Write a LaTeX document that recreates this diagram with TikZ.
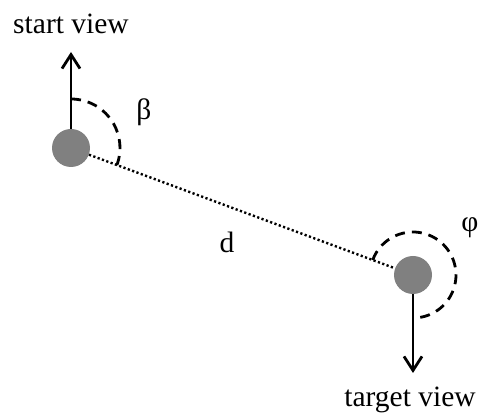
\documentclass[tikz,border=0pt]{standalone}
\usepackage{fontspec}
\setmainfont{Liberation Serif}
\usetikzlibrary{arrows.meta,calc}
\begin{document}
\begin{tikzpicture}[x=1pt,y=1pt,
  view/.style={circle,fill={rgb,255:red,128;green,128;blue,128},minimum size=38pt,inner sep=0pt},
  viewarrow/.style={line width=2.8pt,-{Straight Barb[length=14pt,width=18pt,line width=2.8pt]}},
  anglearc/.style={line width=2.8pt,dash pattern=on 10pt off 7pt},
  distline/.style={line width=2.4pt,dash pattern=on 2.2pt off 2.4pt},
  lab/.style={font=\fontsize{29.5}{34}\selectfont,inner sep=0pt}]
\useasboundingbox (0,0) rectangle (480,414);
\node[view] (s) at (71,266) {};
\node[view] (t) at (413,139) {};
\coordinate (sv) at (71,362);
\coordinate (tv) at (413,41);
\draw[distline] (s) -- (t);
\draw[viewarrow] (s.north) -- (sv);
\draw[viewarrow] (t.south) -- (tv);
\draw[anglearc] ($(s)+(90:49)$) arc[start angle=90,end angle=-20.4,radius=49];
\draw[anglearc] ($(t)+(159.6:43)$) arc[start angle=159.6,end angle=-90,radius=43];
\node[lab] (startlab) at (71,390) {start view};
\node[lab] (targetlab) at (410,14) {target view};
\node[lab] (beta) at (144,302) {β};
\node[lab] (dlab) at (227,172) {d};
\node[lab] (phi) at (470,186) {φ};
\end{tikzpicture}
\end{document}
